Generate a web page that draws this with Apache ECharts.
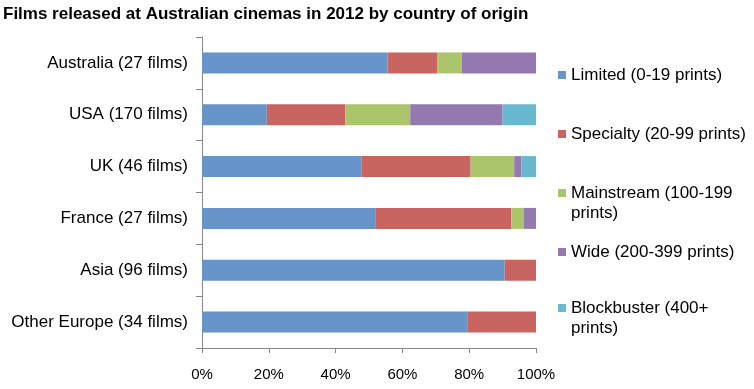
<!DOCTYPE html>
<html><head><meta charset="utf-8">
<script src="https://cdn.jsdelivr.net/npm/echarts@6/dist/echarts.min.js"></script>
<style>html,body{margin:0;padding:0;background:#fff}#c{width:754px;height:389px}</style>
</head><body><div id="c"></div>
<script>
const categories = ['Australia (27 films)','USA (170 films)','UK (46 films)','France (27 films)','Asia (96 films)','Other Europe (34 films)'];
const totals = [27,170,46,27,96,34];
const limited     = [15,33,22,14,87,27];
const specialty   = [4,40,15,11,9,7];
const mainstream  = [2,33,6,1,0,0];
const wide        = [6,47,1,1,0,0];
const blockbuster = [0,17,2,0,0,0];
const seriesNames = ['Limited (0-19 prints)','Specialty (20-99 prints)','Mainstream (100-199\nprints)','Wide (200-399 prints)','Blockbuster (400+\nprints)'];
const xTicks = ['0%','20%','40%','60%','80%','100%'];

const colors = ['#6794C9','#C96561','#ABC56B','#9479B0','#68B8CF'];
const counts = [limited, specialty, mainstream, wide, blockbuster];
const pct = arr => arr.map((v,i)=> v/totals[i]*100);

const font = 'Liberation Sans, Arial, sans-serif';
const legendTops = [65, 124, 183, 242, 298];
const legends = seriesNames.map((n,i)=>{
  const multi = n.indexOf('\n')>=0;
  return {
    data:[n], left:558, top:legendTops[i], orient:'vertical', padding:0,
    itemWidth:8, itemHeight: multi ? 28 : 8, itemGap:0,
    icon: multi ? 'path://M0,0L8,0L8,8L0,8Z M8,28' : 'rect',
    textStyle:{fontFamily:font,fontSize:17,color:'#000',lineHeight:20},
    selectedMode:false
  };
});

const chart = echarts.init(document.getElementById('c'), null, {renderer:'canvas'});
chart.setOption({
  animation:false,
  title:{text:'Films released at Australian cinemas in 2012 by country of origin', left:3, top:6, padding:0,
    textStyle:{fontFamily:font,fontSize:17,fontWeight:'bold',color:'#000'}},
  legend: legends,
  grid:{left:202, right:218, top:37, bottom:41, containLabel:false},
  xAxis:{type:'value', min:0, max:100, interval:20,
    axisLine:{show:true,lineStyle:{color:'#868686'}},
    axisTick:{show:true,length:5,lineStyle:{color:'#868686'}},
    splitLine:{show:false},
    axisLabel:{fontFamily:font,fontSize:15,color:'#000',margin:19,
      formatter:(v)=>xTicks[Math.round(v/20)]}},
  yAxis:{type:'category', data:categories, inverse:true,
    axisLine:{show:true,lineStyle:{color:'#868686'}},
    axisTick:{show:true,length:6,lineStyle:{color:'#868686'}},
    axisLabel:{fontFamily:font,fontSize:17,color:'#000',margin:14}},
  series: counts.map((arr,i)=>({
    name: seriesNames[i], type:'bar', stack:'total', barWidth:21,
    itemStyle:{color:colors[i]},
    data: pct(arr)
  }))
});
</script></body></html>
